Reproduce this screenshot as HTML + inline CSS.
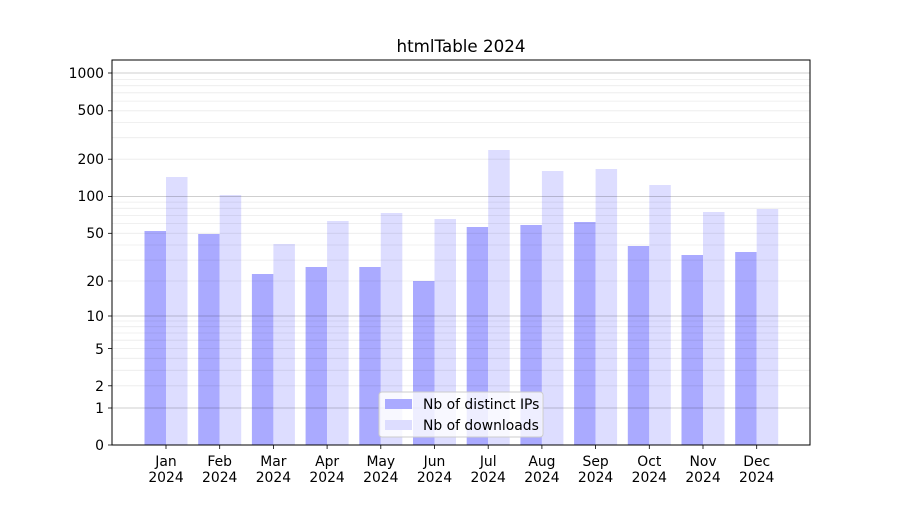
<!DOCTYPE html>
<html><head><meta charset="utf-8"><style>body{margin:0;background:#fff}</style></head><body>
<svg width="900" height="500" xmlns="http://www.w3.org/2000/svg" font-family="DejaVu Sans, Liberation Sans, sans-serif">
<rect width="900" height="500" fill="#fff"/>
<g fill="#aaaaff">
<rect x="144.5" y="231" width="21.5" height="214"/>
<rect x="198.2" y="234" width="21.5" height="211"/>
<rect x="251.9" y="274" width="21.5" height="171"/>
<rect x="305.6" y="267" width="21.5" height="178"/>
<rect x="359.3" y="267" width="21.5" height="178"/>
<rect x="413" y="281" width="21.5" height="164"/>
<rect x="466.7" y="227" width="21.5" height="218"/>
<rect x="520.4" y="225" width="21.5" height="220"/>
<rect x="574.1" y="222" width="21.5" height="223"/>
<rect x="627.8" y="246" width="21.5" height="199"/>
<rect x="681.5" y="255" width="21.5" height="190"/>
<rect x="735.2" y="252" width="21.5" height="193"/>
</g>
<g fill="#ddddff">
<rect x="166" y="177" width="21.5" height="268"/>
<rect x="219.7" y="195" width="21.5" height="250"/>
<rect x="273.4" y="244" width="21.5" height="201"/>
<rect x="327.1" y="221" width="21.5" height="224"/>
<rect x="380.8" y="213" width="21.5" height="232"/>
<rect x="434.5" y="219" width="21.5" height="226"/>
<rect x="488.2" y="150" width="21.5" height="295"/>
<rect x="541.9" y="171" width="21.5" height="274"/>
<rect x="595.6" y="169" width="21.5" height="276"/>
<rect x="649.3" y="185" width="21.5" height="260"/>
<rect x="703" y="212" width="21.5" height="233"/>
<rect x="756.7" y="209" width="21.5" height="236"/>
</g>
<g stroke="rgba(0,0,0,0.08)" stroke-width="0.8">
<line x1="112" x2="810" y1="385.8" y2="385.8"/><line x1="112" x2="810" y1="370.3" y2="370.3"/><line x1="112" x2="810" y1="358.3" y2="358.3"/><line x1="112" x2="810" y1="348.5" y2="348.5"/><line x1="112" x2="810" y1="340.2" y2="340.2"/><line x1="112" x2="810" y1="333" y2="333"/><line x1="112" x2="810" y1="326.7" y2="326.7"/><line x1="112" x2="810" y1="321" y2="321"/>
<line x1="112" x2="810" y1="281" y2="281"/><line x1="112" x2="810" y1="260.1" y2="260.1"/><line x1="112" x2="810" y1="245" y2="245"/><line x1="112" x2="810" y1="233.3" y2="233.3"/><line x1="112" x2="810" y1="223.6" y2="223.6"/><line x1="112" x2="810" y1="215.4" y2="215.4"/><line x1="112" x2="810" y1="208.3" y2="208.3"/><line x1="112" x2="810" y1="202.1" y2="202.1"/>
<line x1="112" x2="810" y1="159.2" y2="159.2"/><line x1="112" x2="810" y1="137.7" y2="137.7"/><line x1="112" x2="810" y1="122.6" y2="122.6"/><line x1="112" x2="810" y1="110.8" y2="110.8"/><line x1="112" x2="810" y1="101.1" y2="101.1"/><line x1="112" x2="810" y1="92.8" y2="92.8"/><line x1="112" x2="810" y1="85.7" y2="85.7"/><line x1="112" x2="810" y1="79.4" y2="79.4"/>
</g>
<g stroke="rgba(0,0,0,0.25)" stroke-width="0.8">
<line x1="112" x2="810" y1="408" y2="408"/><line x1="112" x2="810" y1="316" y2="316"/><line x1="112" x2="810" y1="196.5" y2="196.5"/><line x1="112" x2="810" y1="73" y2="73"/>
</g>
<rect x="112" y="60" width="698" height="385" fill="none" stroke="#000" stroke-width="1"/>
<g stroke="#000" stroke-width="0.8">
<line x1="108" x2="112" y1="445" y2="445"/><line x1="108" x2="112" y1="408" y2="408"/><line x1="108" x2="112" y1="385.8" y2="385.8"/><line x1="108" x2="112" y1="348.5" y2="348.5"/><line x1="108" x2="112" y1="316" y2="316"/><line x1="108" x2="112" y1="281" y2="281"/><line x1="108" x2="112" y1="233.3" y2="233.3"/><line x1="108" x2="112" y1="196.5" y2="196.5"/><line x1="108" x2="112" y1="159.2" y2="159.2"/><line x1="108" x2="112" y1="110.8" y2="110.8"/><line x1="108" x2="112" y1="73" y2="73"/>
</g>
<g font-size="13.9" text-anchor="end" fill="#000">
<text x="104" y="450">0</text><text x="104" y="413">1</text><text x="104" y="391">2</text><text x="104" y="354">5</text><text x="104" y="321">10</text><text x="104" y="286">20</text><text x="104" y="238">50</text><text x="104" y="201">100</text><text x="104" y="164">200</text><text x="104" y="115">500</text><text x="104" y="78">1000</text>
</g>
<g stroke="#000" stroke-width="0.8">
<line x1="166" x2="166" y1="445" y2="449"/><line x1="219.7" x2="219.7" y1="445" y2="449"/><line x1="273.4" x2="273.4" y1="445" y2="449"/><line x1="327.1" x2="327.1" y1="445" y2="449"/><line x1="380.8" x2="380.8" y1="445" y2="449"/><line x1="434.5" x2="434.5" y1="445" y2="449"/><line x1="488.2" x2="488.2" y1="445" y2="449"/><line x1="541.9" x2="541.9" y1="445" y2="449"/><line x1="595.6" x2="595.6" y1="445" y2="449"/><line x1="649.3" x2="649.3" y1="445" y2="449"/><line x1="703" x2="703" y1="445" y2="449"/><line x1="756.7" x2="756.7" y1="445" y2="449"/>
</g>
<g font-size="13.9" text-anchor="middle" fill="#000">
<text x="166" y="466">Jan</text><text x="166" y="482">2024</text>
<text x="219.7" y="466">Feb</text><text x="219.7" y="482">2024</text>
<text x="273.4" y="466">Mar</text><text x="273.4" y="482">2024</text>
<text x="327.1" y="466">Apr</text><text x="327.1" y="482">2024</text>
<text x="380.8" y="466">May</text><text x="380.8" y="482">2024</text>
<text x="434.5" y="466">Jun</text><text x="434.5" y="482">2024</text>
<text x="488.2" y="466">Jul</text><text x="488.2" y="482">2024</text>
<text x="541.9" y="466">Aug</text><text x="541.9" y="482">2024</text>
<text x="595.6" y="466">Sep</text><text x="595.6" y="482">2024</text>
<text x="649.3" y="466">Oct</text><text x="649.3" y="482">2024</text>
<text x="703" y="466">Nov</text><text x="703" y="482">2024</text>
<text x="756.7" y="466">Dec</text><text x="756.7" y="482">2024</text>
</g>
<text x="461" y="52" font-size="16.7" text-anchor="middle">htmlTable 2024</text>
<rect x="379" y="392" width="164" height="45" rx="3" fill="#fff" fill-opacity="0.8" stroke="#ccc"/>
<rect x="385" y="399" width="27" height="10" fill="#aaaaff"/>
<rect x="385" y="420" width="27" height="10" fill="#ddddff"/>
<text x="423" y="409" font-size="13.9">Nb of distinct IPs</text>
<text x="423" y="430" font-size="13.9">Nb of downloads</text>
</svg>
</body></html>
